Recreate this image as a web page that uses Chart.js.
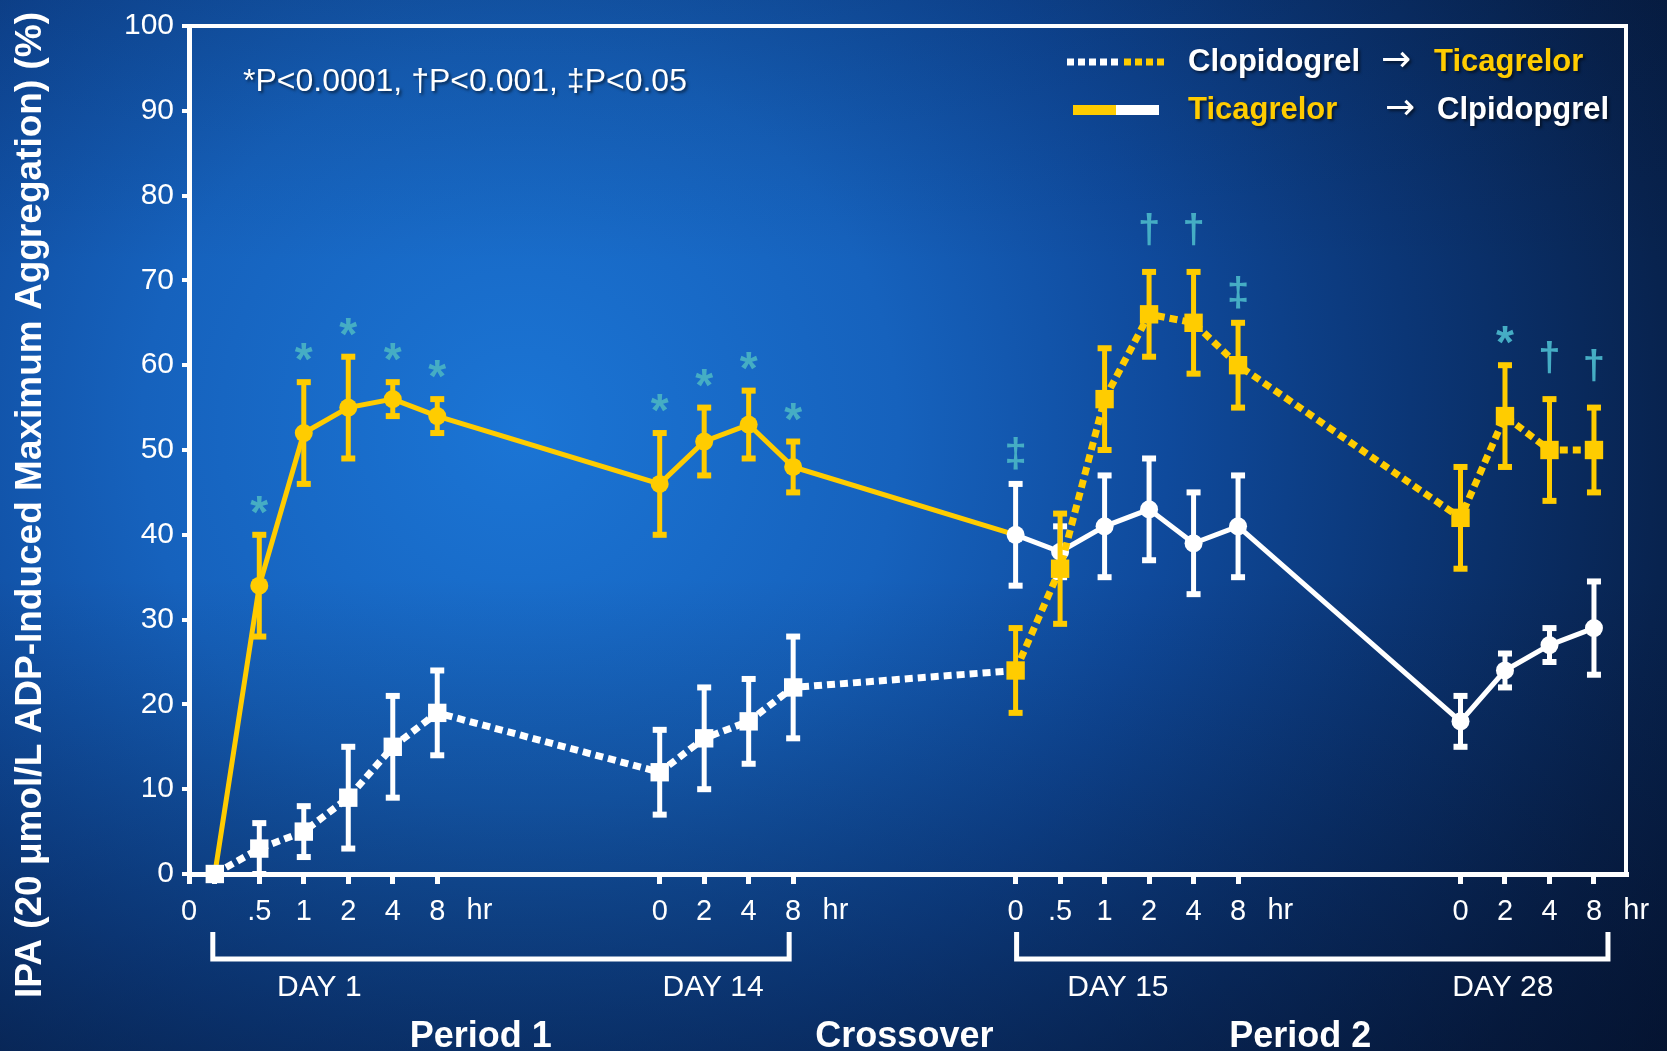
<!DOCTYPE html>
<html>
<head>
<meta charset="utf-8">
<script src="https://cdn.jsdelivr.net/npm/chart.js@4.4.1/dist/chart.umd.min.js"></script>
<style>
  html, body { margin: 0; padding: 0; background: #0b2e6a; }
  canvas { display: block; }
</style>
</head>
<body>
<canvas id="ipaChart" width="1667" height="1051"></canvas>
<script>
const YELLOW = '#ffcc00';
const WHITE = '#ffffff';
const TEAL = '#45adc4';
const FONT = '"Liberation Sans", Arial, sans-serif';

// x slots for each sampling time (gaps between the study days)
const slot = [0, 1, 2, 3, 4, 5, 10, 11, 12, 13, 18, 19, 20, 21, 22, 23, 28, 29, 30, 31];
const timeLabels = ['0', '.5', '1', '2', '4', '8', '0', '2', '4', '8', '0', '.5', '1', '2', '4', '8', '0', '2', '4', '8'];
const dayNames = ['DAY 1', 'DAY 14', 'DAY 15', 'DAY 28'];
const periodNames = ['Period 1', 'Crossover', 'Period 2'];

// IPA (%) means and error bars
const ticaClop = [0, 34, 52, 55, 56, 54, 46, 51, 53, 48, 40, 38, 41, 43, 39, 41, 18, 24, 27, 29];
const ticaClopErr = [0, 6, 6, 6, 2, 2, 6, 4, 4, 3, 6, 3, 6, 6, 6, 6, 3, 2, 2, 5.5];
const clopTica = [0, 3, 5, 9, 15, 19, 12, 16, 18, 22, 24, 36, 56, 66, 65, 60, 42, 54, 50, 50];
const clopTicaErr = [0, 3, 3, 6, 6, 5, 5, 6, 5, 6, 5, 6.5, 6, 5, 6, 5, 6, 6, 6, 5];
const sigMarks = ['', '*', '*', '*', '*', '*', '*', '*', '*', '*', '\u2021', '', '', '\u2020', '\u2020', '\u2021', '', '*', '\u2020', '\u2020'];
const crossIdx = 10; // first time point after crossover

function colorAt(ds, i) {
  return i < crossIdx ? ds.colorA : ds.colorB;
}

function drawText(ctx, s, x, y, font, color, align, shadow) {
  ctx.save();
  ctx.font = font;
  ctx.fillStyle = color;
  ctx.textAlign = align || 'center';
  ctx.textBaseline = 'middle';
  if (shadow) {
    ctx.shadowColor = 'rgba(0,0,0,0.55)';
    ctx.shadowOffsetX = 2;
    ctx.shadowOffsetY = 2;
    ctx.shadowBlur = 3;
  }
  ctx.fillText(s, x, y);
  ctx.restore();
}

const backdrop = {
  id: 'backdrop',
  beforeDraw(chart) {
    const { ctx, width, height } = chart;
    ctx.save();
    const g = ctx.createRadialGradient(520, 430, 0, 520, 430, 1350);
    g.addColorStop(0, '#1b75d5');
    g.addColorStop(0.28, '#1662bd');
    g.addColorStop(0.48, '#0f4a9c');
    g.addColorStop(0.66, '#0b3676');
    g.addColorStop(0.85, '#08234f');
    g.addColorStop(1, '#061838');
    ctx.fillStyle = g;
    ctx.fillRect(0, 0, width, height);
    const v = ctx.createLinearGradient(0, 0, 0, height);
    v.addColorStop(0, 'rgba(3,12,35,0.15)');
    v.addColorStop(0.25, 'rgba(3,12,35,0)');
    v.addColorStop(0.55, 'rgba(3,12,35,0)');
    v.addColorStop(1, 'rgba(3,12,35,0.45)');
    ctx.fillStyle = v;
    ctx.fillRect(0, 0, width, height);
    ctx.restore();
  }
};

const errorBars = {
  id: 'errorBars',
  beforeDatasetDraw(chart, args) {
    const ds = chart.data.datasets[args.index];
    const yScale = chart.scales.y;
    const ctx = chart.ctx;
    ctx.save();
    ctx.lineWidth = 5;
    args.meta.data.forEach((pt, i) => {
      const e = ds.errors[i];
      if (!e) return;
      const v = ds.data[i].y;
      const top = yScale.getPixelForValue(v + e);
      const bot = yScale.getPixelForValue(v - e);
      const c = colorAt(ds, i);
      ctx.strokeStyle = c;
      ctx.fillStyle = c;
      ctx.beginPath();
      ctx.moveTo(pt.x, top);
      ctx.lineTo(pt.x, bot);
      ctx.stroke();
      ctx.fillRect(pt.x - 7, top - 3, 14, 6);
      ctx.fillRect(pt.x - 7, bot - 3, 14, 6);
    });
    ctx.restore();
  }
};

const decorations = {
  id: 'decorations',
  afterDraw(chart) {
    const { ctx, chartArea: a } = chart;
    const x = chart.scales.x, y = chart.scales.y;

    // plot frame (top and right)
    ctx.save();
    ctx.strokeStyle = WHITE;
    ctx.lineWidth = 4;
    ctx.beginPath();
    ctx.moveTo(a.left, a.top);
    ctx.lineTo(a.right, a.top);
    ctx.lineTo(a.right, a.bottom);
    ctx.stroke();
    ctx.restore();

    // significance symbols above the highest error bar
    const sets = chart.data.datasets;
    sigMarks.forEach((m, i) => {
      if (!m) return;
      const hi = Math.max(...sets.map(ds => ds.data[i].y + ds.errors[i]));
      const off = m === '*' ? 30 : (m === '\u2020' ? 42 : 30);
      const cy = y.getPixelForValue(hi) - off;
      ctx.save();
      ctx.font = (m === '*' ? 'bold 46px ' : 'bold 40px ') + FONT;
      ctx.fillStyle = TEAL;
      ctx.textAlign = 'center';
      ctx.textBaseline = 'alphabetic';
      const tm = ctx.measureText(m);
      const base = cy + (tm.actualBoundingBoxAscent - tm.actualBoundingBoxDescent) / 2;
      ctx.fillText(m, x.getPixelForValue(slot[i]), base);
      ctx.restore();
    });

    // "hr" after each day's ticks
    const tickFont = '29px ' + FONT;
    [5, 13, 23, 31].forEach(s => {
      drawText(ctx, 'hr', x.getPixelForValue(s + 0.95), 911, tickFont, WHITE);
    });

    // day brackets
    ctx.save();
    ctx.strokeStyle = WHITE;
    ctx.lineWidth = 5;
    ctx.lineJoin = 'miter';
    [[0, 13, -2, -4], [18, 31, 1, 14]].forEach(([s0, s1, d0, d1]) => {
      const x0 = x.getPixelForValue(s0) + d0;
      const x1 = x.getPixelForValue(s1) + d1;
      ctx.beginPath();
      ctx.moveTo(x0, 932);
      ctx.lineTo(x0, 959);
      ctx.lineTo(x1, 959);
      ctx.lineTo(x1, 932);
      ctx.stroke();
    });
    ctx.restore();

    const dayFont = '30px ' + FONT;
    [2.35, 11.2, 20.3, 28.95].forEach((s, i) => {
      drawText(ctx, dayNames[i], x.getPixelForValue(s), 988, dayFont, WHITE);
    });
    const periodFont = 'bold 36px ' + FONT;
    [5.98, 15.5, 24.4].forEach((s, i) => {
      drawText(ctx, periodNames[i], x.getPixelForValue(s), 1037, periodFont, WHITE);
    });

    // y-axis title
    ctx.save();
    ctx.translate(31, 505);
    ctx.rotate(-Math.PI / 2);
    drawText(ctx, 'IPA (20 \u03bcmol/L ADP-Induced Maximum Aggregation) (%)', 0, 0, 'bold 37px ' + FONT, WHITE);
    ctx.restore();

    // p-value note
    drawText(ctx, '*P<0.0001, \u2020P<0.001, \u2021P<0.05', 243, 82, '32px ' + FONT, WHITE, 'left', true);

    // legend
    const legFont = 'bold 31px ' + FONT;
    const arrowFont = '36px "DejaVu Sans", ' + FONT;
    ctx.save();
    ctx.lineCap = 'butt';
    ctx.lineWidth = 7;
    ctx.setLineDash([7, 4]);
    ctx.strokeStyle = WHITE;
    ctx.beginPath(); ctx.moveTo(1067, 62); ctx.lineTo(1121, 62); ctx.stroke();
    ctx.strokeStyle = YELLOW;
    ctx.beginPath(); ctx.moveTo(1124, 62); ctx.lineTo(1164, 62); ctx.stroke();
    ctx.setLineDash([]);
    ctx.lineWidth = 10;
    ctx.strokeStyle = YELLOW;
    ctx.beginPath(); ctx.moveTo(1073, 110); ctx.lineTo(1116, 110); ctx.stroke();
    ctx.strokeStyle = WHITE;
    ctx.beginPath(); ctx.moveTo(1116, 110); ctx.lineTo(1159, 110); ctx.stroke();
    ctx.restore();
    drawText(ctx, 'Clopidogrel', 1188, 62, legFont, WHITE, 'left', true);
    drawText(ctx, '\u2192', 1381, 62, arrowFont, WHITE, 'left', true);
    drawText(ctx, 'Ticagrelor', 1434, 62, legFont, YELLOW, 'left', true);
    drawText(ctx, 'Ticagrelor', 1188, 110, legFont, YELLOW, 'left', true);
    drawText(ctx, '\u2192', 1385, 110, arrowFont, WHITE, 'left', true);
    drawText(ctx, 'Clpidopgrel', 1437, 110, legFont, WHITE, 'left', true);
  }
};

const ctx = document.getElementById('ipaChart').getContext('2d');
new Chart(ctx, {
  type: 'line',
  data: {
    datasets: [
      {
        label: 'Ticagrelor \u2192 Clopidogrel',
        data: slot.map((s, i) => ({ x: s, y: ticaClop[i] })),
        errors: ticaClopErr,
        colorA: YELLOW,
        colorB: WHITE,
        borderWidth: 5,
        pointStyle: 'circle',
        pointRadius: 9,
        pointBorderWidth: 0,
        pointBackgroundColor: slot.map((s, i) => i < crossIdx ? YELLOW : WHITE),
        segment: {
          borderColor: c => c.p0DataIndex < crossIdx ? YELLOW : WHITE
        },
        clip: false,
        order: 2
      },
      {
        label: 'Clopidogrel \u2192 Ticagrelor',
        data: slot.map((s, i) => ({ x: s, y: clopTica[i] })),
        errors: clopTicaErr,
        colorA: WHITE,
        colorB: YELLOW,
        borderWidth: 7,
        borderDash: [8, 5],
        borderCapStyle: 'butt',
        pointStyle: 'rect',
        pointRadius: 13,
        pointBorderWidth: 0,
        pointBackgroundColor: slot.map((s, i) => i < crossIdx ? WHITE : YELLOW),
        segment: {
          borderColor: c => c.p0DataIndex < crossIdx ? WHITE : YELLOW
        },
        clip: false,
        order: 1
      }
    ]
  },
  options: {
    responsive: false,
    animation: false,
    layout: { padding: { left: 0, top: 18, right: 41, bottom: 0 } },
    plugins: {
      legend: { display: false },
      tooltip: { enabled: false }
    },
    scales: {
      x: {
        type: 'linear',
        min: -0.58,
        max: 31.72,
        afterFit(scale) { scale.height = 177; },
        afterBuildTicks(scale) {
          scale.ticks = [{ value: scale.min }].concat(slot.map(v => ({ value: v })));
        },
        ticks: {
          autoSkip: false,
          maxRotation: 0,
          color: WHITE,
          padding: 11,
          font: { family: FONT, size: 29 },
          callback: (v, i) => i === 0 ? '0' : (i === 1 ? '' : timeLabels[i - 1])
        },
        grid: { drawOnChartArea: false, color: WHITE, lineWidth: 5, tickLength: 10 },
        border: { color: WHITE, width: 5 }
      },
      y: {
        min: 0,
        max: 100,
        afterFit(scale) { scale.width = 189; },
        ticks: {
          stepSize: 10,
          color: WHITE,
          padding: 8,
          font: { family: FONT, size: 30 }
        },
        grid: { drawOnChartArea: false, color: WHITE, lineWidth: 4, tickLength: 7 },
        border: { color: WHITE, width: 5 }
      }
    }
  },
  plugins: [backdrop, errorBars, decorations]
});
</script>
</body>
</html>
